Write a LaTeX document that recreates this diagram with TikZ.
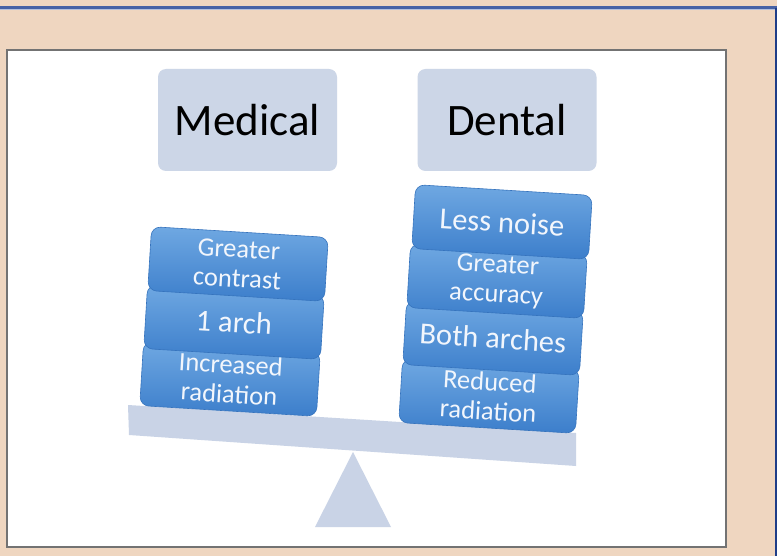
\documentclass[tikz,border=0pt]{standalone}
\usepackage{fontspec}
\setmainfont{Carlito}
\definecolor{beige}{HTML}{EFD6C0}
\definecolor{topblue}{HTML}{4662A6}
\definecolor{sideblue}{HTML}{1E3D88}
\definecolor{framegray}{HTML}{737373}
\definecolor{headfill}{HTML}{CCD6E7}
\definecolor{beamfill}{HTML}{C9D3E6}
\definecolor{boxtop}{HTML}{6FA8E2}
\definecolor{boxbot}{HTML}{3C7ECB}
\definecolor{boxedge}{HTML}{3573BD}
\definecolor{boxtext}{HTML}{F2F6FC}
\tikzset{
  header/.style={rounded corners=8pt, fill=headfill, minimum width=179pt, minimum height=102pt,
    inner sep=0pt, font=\fontsize{45}{50}\selectfont, text=black},
  stackbox/.style={rounded corners=9pt, top color=boxtop, bottom color=boxbot, draw=boxedge, line width=0.6pt,
    minimum width=177pt, minimum height=64pt, inner sep=0pt, rotate=-3.5, text=boxtext, align=center},
  onefont/.style={font=\fontsize{30.5}{32}\selectfont},
  twofont/.style={font=\fontsize{26.5}{29.5}\selectfont},
  plate/.style={fill=beamfill, draw=none}
}
\begin{document}
\begin{tikzpicture}[x=1pt,y=-1pt]
\useasboundingbox (0,0) rectangle (777,556);
\fill[beige] (0,0) rectangle (777,556);
\draw[topblue, line width=2.5pt] (0,7.5) -- (777,7.5);
\draw[topblue!40!white, line width=1pt] (0,9.8) -- (777,9.8);
\draw[sideblue, line width=2pt] (776,8) -- (776,556);
\draw[framegray, line width=1.6pt, fill=white] (7,50) rectangle (726,547);
% headers
\node[header] (med) at (247.5,120) {Medical};
\node[header] (den) at (507,120) {Dental};
% beam and fulcrum
\coordinate (b1) at (128,405);
\coordinate (b2) at (576,433);
\coordinate (b3) at (576,466);
\coordinate (b4) at (129,435);
\fill[plate] (b1) -- (b2) -- (b3) -- (b4) -- cycle;
\coordinate (apex) at (353,452);
\coordinate (bl) at (315,527);
\coordinate (br) at (391,527);
\fill[plate] (apex) -- (br) -- (bl) -- cycle;
% left stack (bottom first)
\node[stackbox, twofont] (l3) at (230,379) {Increased\\radiation};
\node[stackbox, onefont] (l2) at (234,322) {1 arch};
\node[stackbox, twofont] (l1) at (238,264) {Greater\\contrast};
% right stack
\node[stackbox, twofont] (r4) at (489,396) {Reduced\\radiation};
\node[stackbox, onefont] (r3) at (493,338) {Both arches};
\node[stackbox, twofont] (r2) at (497,281) {Greater\\accuracy};
\node[stackbox, onefont] (r1) at (502,222) {Less noise};
\end{tikzpicture}
\end{document}
